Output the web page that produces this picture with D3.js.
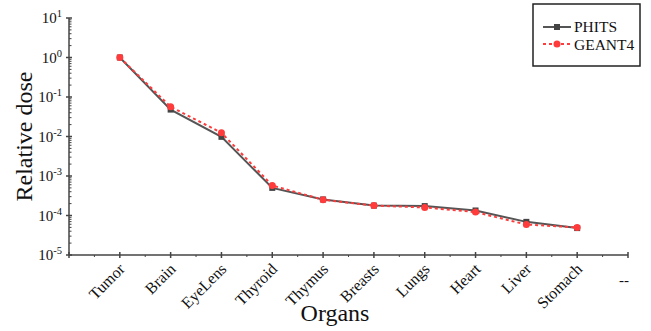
<!DOCTYPE html>
<html>
<head>
<meta charset="utf-8">
<script src="https://cdn.jsdelivr.net/npm/d3@7"></script>
<style>
  body { margin: 0; background: #fff; }
  text { font-family: "Liberation Serif", "Times New Roman", serif; fill: #111; }
</style>
</head>
<body>
<svg id="chart" width="651" height="331"></svg>
<script>
// organs on the x axis (last slot is the empty "--" entry)
const organs = ["Tumor", "Brain", "EyeLens", "Thyroid", "Thymus", "Breasts", "Lungs", "Heart", "Liver", "Stomach", "--"];
const phits = [1.0, 0.048, 0.0098, 5.0e-4, 2.55e-4, 1.78e-4, 1.73e-4, 1.34e-4, 6.9e-5, 4.8e-5];
const geant4 = [1.0, 0.0565, 0.0124, 5.75e-4, 2.5e-4, 1.78e-4, 1.6e-4, 1.22e-4, 5.9e-5, 5.0e-5];
const yTicks = [1e-5, 1e-4, 1e-3, 1e-2, 1e-1, 1, 10];
const yExponents = [-5, -4, -3, -2, -1, 0, 1];

const size = { width: 651, height: 331, margin: { top: 18, right: 23, bottom: 76, left: 69 } };
const svg = d3.select("#chart");

const x = d3.scaleLinear()
    .domain([0, organs.length])
    .range([size.margin.left, size.width - size.margin.right]);

const y = d3.scaleLog()
    .domain([1e-5, 10])
    .range([size.height - size.margin.bottom, size.margin.top]);

const axisColor = "#444";
const x0 = size.margin.left, y0 = size.height - size.margin.bottom;

// y axis: line, major + minor ticks
svg.append("line").attr("x1", x0).attr("x2", x0).attr("y1", y(10)).attr("y2", y0)
    .attr("stroke", axisColor).attr("stroke-width", 1.5);
const minor = [];
yExponents.slice(0, -1).forEach(e => { for (let k = 2; k < 10; k++) minor.push(k * Math.pow(10, e)); });
svg.selectAll(".ymin").data(minor).join("line")
    .attr("x1", x0).attr("x2", x0 + 2.5)
    .attr("y1", d => y(d)).attr("y2", d => y(d))
    .attr("stroke", axisColor).attr("stroke-width", 1);
svg.selectAll(".ymaj").data(yTicks).join("line")
    .attr("x1", x0 - 3).attr("x2", x0 + 3)
    .attr("y1", d => y(d)).attr("y2", d => y(d))
    .attr("stroke", axisColor).attr("stroke-width", 1.5);
const ylab = svg.selectAll(".ylab").data(yTicks).join("text")
    .attr("x", x0 - 7).attr("y", d => y(d) + 5)
    .attr("text-anchor", "end").attr("font-size", 15);
ylab.append("tspan").text("10");
ylab.append("tspan").attr("dy", -6).attr("font-size", 10.5).text((d, i) => yExponents[i]);

// x axis: line, major + minor ticks
svg.append("line").attr("x1", x0).attr("x2", x(organs.length)).attr("y1", y0).attr("y2", y0)
    .attr("stroke", axisColor).attr("stroke-width", 1.5);
svg.selectAll(".xmaj").data(d3.range(0, organs.length + 1)).join("line")
    .attr("x1", d => x(d)).attr("x2", d => x(d))
    .attr("y1", y0 - 3).attr("y2", y0 + 3)
    .attr("stroke", axisColor).attr("stroke-width", 1.5);
svg.selectAll(".xmin").data(d3.range(0.5, organs.length, 1)).join("line")
    .attr("x1", d => x(d)).attr("x2", d => x(d))
    .attr("y1", y0).attr("y2", y0 + 2)
    .attr("stroke", axisColor).attr("stroke-width", 1);

// rotated category labels
svg.selectAll(".xlab").data(organs.slice(0, -1)).join("text")
    .attr("transform", (d, i) => `translate(${x(i + 1) + 6}, ${y0 + 15}) rotate(-45)`)
    .attr("text-anchor", "end").attr("font-size", 16)
    .text(d => d);
svg.append("text")
    .attr("x", x(organs.length) - 4).attr("y", y0 + 30)
    .attr("text-anchor", "middle").attr("font-size", 15)
    .text(organs[organs.length - 1]);

// series
const line = d3.line().x((d, i) => x(i + 1)).y(d => y(d));
svg.append("path").datum(phits).attr("d", line)
    .attr("fill", "none").attr("stroke", "#555").attr("stroke-width", 2);
svg.selectAll(".pm").data(phits).join("rect")
    .attr("x", (d, i) => x(i + 1) - 3).attr("y", d => y(d) - 3)
    .attr("width", 6).attr("height", 6).attr("fill", "#444");
svg.append("path").datum(geant4).attr("d", line)
    .attr("fill", "none").attr("stroke", "#ff3b3b").attr("stroke-width", 2)
    .attr("stroke-dasharray", "3,3");
svg.selectAll(".gm").data(geant4).join("circle")
    .attr("cx", (d, i) => x(i + 1)).attr("cy", d => y(d))
    .attr("r", 3.5).attr("fill", "#ff3b3b");

// legend
const lg = svg.append("g").attr("transform", "translate(533, 4)");
lg.append("rect").attr("width", 107).attr("height", 62)
    .attr("fill", "#fff").attr("stroke", "#222").attr("stroke-width", 1.5);
lg.append("line").attr("x1", 10).attr("x2", 38).attr("y1", 23).attr("y2", 23)
    .attr("stroke", "#555").attr("stroke-width", 2);
lg.append("rect").attr("x", 21).attr("y", 20).attr("width", 6).attr("height", 6).attr("fill", "#444");
lg.append("text").attr("x", 41).attr("y", 27.5).attr("font-size", 15.5).text("PHITS");
lg.append("line").attr("x1", 10).attr("x2", 38).attr("y1", 40).attr("y2", 40)
    .attr("stroke", "#ff3b3b").attr("stroke-width", 2).attr("stroke-dasharray", "3,3");
lg.append("circle").attr("cx", 24).attr("cy", 40).attr("r", 3.5).attr("fill", "#ff3b3b");
lg.append("text").attr("x", 41).attr("y", 46).attr("font-size", 15.5).text("GEANT4");

// axis titles
svg.append("text")
    .attr("transform", `translate(32, ${(y(10) + y0) / 2}) rotate(-90)`)
    .attr("text-anchor", "middle").attr("font-size", 24)
    .text("Relative dose");
svg.append("text")
    .attr("x", 335).attr("y", 321)
    .attr("text-anchor", "middle").attr("font-size", 24)
    .text("Organs");
</script>
</body>
</html>
